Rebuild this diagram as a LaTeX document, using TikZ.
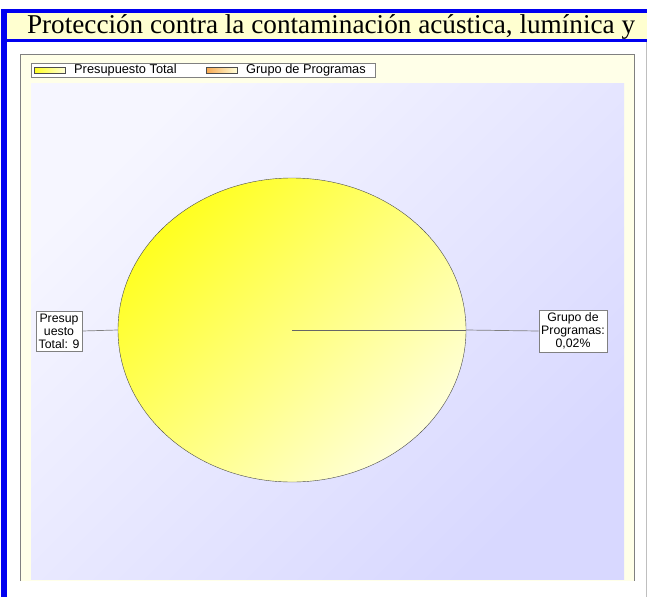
\documentclass[tikz,border=0pt]{standalone}
\usepackage{fontspec}
\setsansfont{Liberation Sans}
\newfontfamily\titlefont{Liberation Serif}
\usetikzlibrary{shapes.geometric}
\definecolor{frameblue}{HTML}{0000F0}
\definecolor{bandyellow}{HTML}{FFFFD0}
\definecolor{panelyellow}{HTML}{FFFFE8}
\definecolor{plottop}{HTML}{F6F6FF}
\definecolor{plotbottom}{HTML}{D8D8FF}
\definecolor{pieyellow}{HTML}{FFFF20}
\definecolor{piepale}{HTML}{FFFFD8}
\definecolor{grporange}{HTML}{F8A850}
\tikzset{
  lbl/.style={draw=gray, fill=white, font=\sffamily\fontsize{12.3}{13}\selectfont,
              align=center, inner xsep=2.5pt, inner ysep=2.5pt},
  swatch/.style={draw=black!70, minimum width=31, minimum height=6, inner sep=0pt},
  legtext/.style={anchor=west, font=\sffamily\fontsize{12.8}{13}\selectfont, inner sep=0pt},
  leader/.style={draw=gray, line width=0.7pt}
}
\begin{document}
\begin{tikzpicture}[x=1pt, y=-1pt]
    \useasboundingbox (0,0) rectangle (647,597);

    % 1. Outer frame and title band
    \fill[frameblue] (1,9) rectangle (647,13);
    \fill[frameblue] (1,9) rectangle (7,597);
    \fill[bandyellow] (7,13) rectangle (647,39);
    \fill[frameblue] (7,39) rectangle (647,42);
    \draw[gray!50] (646,42) -- (646,597);
    \node[font=\titlefont\fontsize{27.2}{27.2}\selectfont, inner sep=0pt] (title) at (331,27)
        {Protección contra la contaminación acústica, lumínica y};

    % 2. Chart panel and plot area
    \fill[panelyellow] (20,54) rectangle (634,581);
    \draw[gray] (20,581) -- (20,54) -- (634,54) -- (634,581);
    \shade[left color=plottop, right color=plotbottom, shading angle=45]
        (31,83) rectangle (624,579);

    % 3. Legend
    \draw[gray, fill=white] (31,63) rectangle (375,77);
    \node[swatch, left color=pieyellow, right color=piepale] (swA) at (49.5,70) {};
    \node[legtext] (legA) at (74,70) {Presupuesto Total};
    \node[swatch, left color=grporange, right color=piepale] (swB) at (221.5,70) {};
    \node[legtext] (legB) at (246,70) {Grupo de Programas};

    % 4. The pie
    \node[ellipse, draw=black!70, line width=0.4pt, minimum width=348, minimum height=304,
          inner sep=0pt, left color=pieyellow, right color=piepale, shading angle=45]
          (pie) at (292,330) {};
    \draw[black!60] (pie.center) -- (pie.east);

    % 5. Labels with leader lines
    \node[lbl] (lblL) at (59,331) {Presup\\uesto\\Total: 9};
    \node[lbl] (lblR) at (573,331) {Grupo de\\Programas:\\0,02\%};
    \draw[leader] (lblL.east) -- (pie.west);
    \draw[leader] (pie.east) -- (lblR.west);
\end{tikzpicture}
\end{document}
